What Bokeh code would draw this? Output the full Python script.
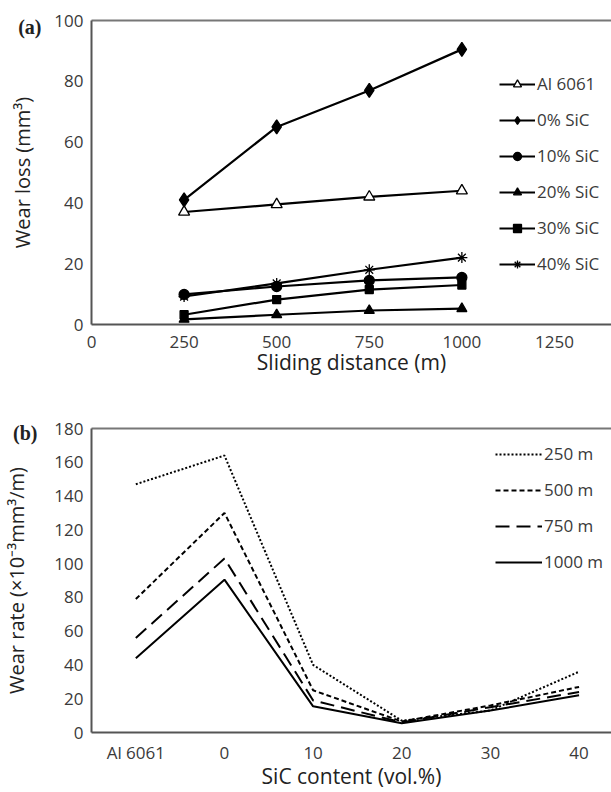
from bokeh.plotting import figure
from bokeh.layouts import column
from bokeh.models import Legend, LegendItem, LinearAxis, FixedTicker, Range1d
from bokeh.embed import file_html
from bokeh.resources import INLINE

# ---------------- data ----------------
distance = [250, 500, 750, 1000]
al6061 = [37, 39.5, 42, 44]
sic0 = [41, 65, 77, 90.5]
sic10 = [9.9, 12.5, 14.5, 15.5]
sic20 = [1.7, 3.2, 4.6, 5.2]
sic30 = [3.2, 8.2, 11.5, 13]
sic40 = [9.2, 13.5, 18, 22]
distance_ticks = [0, 250, 500, 750, 1000, 1250]
loss_ticks = [0, 20, 40, 60, 80, 100]

categories = ["Al 6061", "0", "10", "20", "30", "40"]
rate250 = [147, 164, 40, 7, 13, 36]
rate500 = [79, 130, 25, 6.5, 16, 27]
rate750 = [56, 103, 19, 6, 15, 24]
rate1000 = [44, 90.5, 15.5, 5.5, 13, 22]
rate_ticks = [0, 20, 40, 60, 80, 100, 120, 140, 160, 180]

FONT = "Open Sans"
TXT = "#3a3a3a"
AXC = "#555555"


def style(p):
    p.toolbar_location = None
    p.outline_line_color = None
    p.xgrid.visible = False
    p.ygrid.visible = False
    p.background_fill_color = "white"
    p.border_fill_color = "white"
    for ax in p.xaxis + p.yaxis:
        ax.major_tick_line_color = None
        ax.minor_tick_line_color = None
        ax.major_tick_out = 0
        ax.major_tick_in = 0
        ax.axis_line_color = AXC
        ax.axis_line_width = 2
        ax.major_label_text_font = FONT
        ax.major_label_text_font_size = "17px"
        ax.major_label_text_color = TXT
        ax.axis_label_text_font = FONT
        ax.axis_label_text_font_size = "21px"
        ax.axis_label_text_font_style = "normal"
        ax.axis_label_text_color = "#222222"
    # top border line (no ticks, no labels)
    top = LinearAxis(ticker=FixedTicker(ticks=[]), major_tick_line_color=None,
                     minor_tick_line_color=None, axis_line_color="#777777",
                     axis_line_width=2, major_tick_out=0, major_tick_in=0)
    p.add_layout(top, "above")


def panel_axis(p, tag, tag_pos, title, tag_standoff, title_standoff):
    """Outer left axis carrying the panel tag '(a)'/'(b)' and the y title."""
    ax = LinearAxis(ticker=FixedTicker(ticks=[tag_pos]),
                    major_label_overrides={tag_pos: tag},
                    major_tick_line_color=None, minor_tick_line_color=None,
                    major_tick_out=0, major_tick_in=0, axis_line_color=None,
                    major_label_standoff=tag_standoff,
                    major_label_text_font="Liberation Serif",
                    major_label_text_font_style="bold",
                    major_label_text_font_size="20px",
                    major_label_text_color="#222222",
                    axis_label=title, axis_label_standoff=title_standoff,
                    axis_label_text_font=FONT, axis_label_text_font_size="20px",
                    axis_label_text_font_style="normal",
                    axis_label_text_color="#222222")
    p.add_layout(ax, "left")


# ---------------- panel (a) ----------------
pa = figure(width=611, height=378, output_backend="svg", toolbar_location=None,
            x_range=Range1d(0, 1404), y_range=Range1d(0, 100),
            min_border_left=90, min_border_right=0, min_border_top=20, min_border_bottom=10)
style(pa)
xa, ya = pa.below[0], pa.left[0]
xa.ticker = FixedTicker(ticks=distance_ticks)
ya.ticker = FixedTicker(ticks=loss_ticks)
xa.axis_label = "Sliding distance (m)"
xa.major_label_standoff = 11
ya.major_label_standoff = 8
xa.axis_label_standoff = -3
panel_axis(pa, "(a)", 97.7, "Wear loss (mm³)", 10, -21)

series_a = [
    ("Al 6061", al6061, "triangle", "white", 11),
    ("0% SiC", sic0, "diamond", "black", 14),
    ("10% SiC", sic10, "circle", "black", 10),
    ("20% SiC", sic20, "triangle", "black", 10),
    ("30% SiC", sic30, "square", "black", 8),
    ("40% SiC", sic40, "asterisk", "black", 11),
]
items_a = []
for name, ys, mk, fill, sz in series_a:
    ln = pa.line(distance, ys, line_color="black", line_width=2.2)
    sc = pa.scatter(distance, ys, marker=mk, size=sz, fill_color=fill,
                    line_color="black", line_width=1.3)
    items_a.append(LegendItem(label=name, renderers=[ln, sc]))

leg_a = Legend(items=items_a, location=(408, 49), orientation="vertical",
               border_line_color=None, background_fill_alpha=0,
               glyph_width=36, glyph_height=20, label_height=20, spacing=13,
               label_standoff=2, padding=0, margin=0,
               label_text_font=FONT, label_text_font_size="17px",
               label_text_color=TXT)
pa.add_layout(leg_a, "center")

# ---------------- panel (b) ----------------
idx = list(range(len(categories)))
pb = figure(width=611, height=414, output_backend="svg", toolbar_location=None,
            x_range=Range1d(-0.5, 5.366), y_range=Range1d(0, 180),
            min_border_left=91, min_border_right=0, min_border_top=50, min_border_bottom=10)
style(pb)
xb, yb = pb.below[0], pb.left[0]
xb.ticker = FixedTicker(ticks=idx)
xb.major_label_overrides = {i: c for i, c in zip(idx, categories)}
yb.ticker = FixedTicker(ticks=rate_ticks)
xb.axis_label = "SiC content (vol.%)"
xb.major_label_standoff = 8
yb.major_label_standoff = 8
xb.axis_label_standoff = -5
panel_axis(pb, "(b)", 177.6, "Wear rate (×10⁻³mm³/m)", 14, -20)

series_b = [
    ("250 m", rate250, "2 2", 2.0),
    ("500 m", rate500, "5 3", 2.0),
    ("750 m", rate750, "14 7", 2.0),
    ("1000 m", rate1000, "solid", 2.0),
]
items_b = []
for name, ys, dash, lw in series_b:
    ln = pb.line(idx, ys, line_color="black", line_width=lw, line_dash=dash)
    items_b.append(LegendItem(label=name, renderers=[ln]))

leg_b = Legend(items=items_b, location=(404, 159), orientation="vertical",
               border_line_color=None, background_fill_alpha=0,
               glyph_width=47, glyph_height=20, label_height=20, spacing=13,
               label_standoff=2, padding=0, margin=0,
               label_text_font=FONT, label_text_font_size="17px",
               label_text_color=TXT)
pb.add_layout(leg_b, "center")

layout = column(pa, pb, spacing=0)
open("out.html", "w").write(file_html(layout, INLINE))
